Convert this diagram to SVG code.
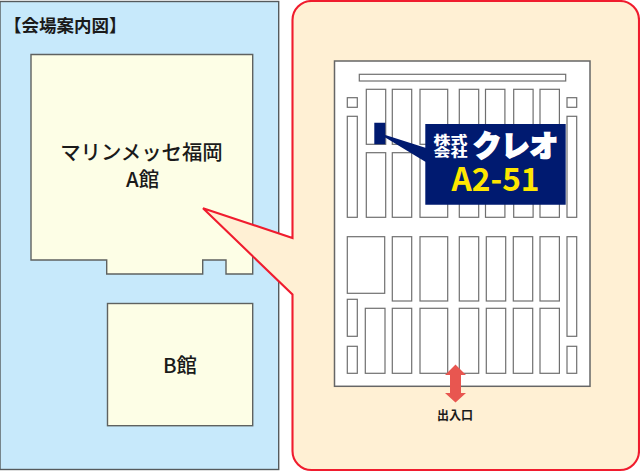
<svg xmlns="http://www.w3.org/2000/svg" width="640" height="472" viewBox="0 0 640 472">
<style>
text{font-family:"Noto Sans CJK JP","Noto Sans",sans-serif}
.hall{fill:#fdfee6;stroke:#5f6260;stroke-width:1.4}
.s{fill:#fff;stroke:#6f6f6f;stroke-width:1.2}
.lb{fill:#1a1a1a;font-weight:500;text-anchor:middle;font-size:20.400px}
.red{stroke:#f01c2e;stroke-width:2.100;stroke-linejoin:miter}
.w{fill:#fff;font-weight:900}
</style>
<rect width="640" height="472" fill="#fff"/>
<g id="site-panel">
<rect x="0" y="1.500" width="278.700" height="468" fill="#c7e9fb" stroke="#555a5c" stroke-width="1.400"/>
<text x="4" y="31.500" font-weight="700" fill="#1a1a1a" style="font-size:17.500px">【会場案内図】</text>
</g>
<g id="hall-a">
<path class="hall" d="M31 54.500H252.700V274H226V260H202.700V274H106.700V260H31Z"/>
<text class="lb" x="141.500" y="160">マリンメッセ福岡</text>
<text class="lb" x="142.500" y="187">A館</text>
</g>
<g id="hall-b">
<rect class="hall" x="107.500" y="303.500" width="145.200" height="122.200"/>
<text class="lb" x="180" y="372.500">B館</text>
</g>
<g id="detail-panel">
<path d="M639 451V20A19 19 0 0 0 620 1H311.500A19 19 0 0 0 292.500 20V238L203 208.300L292.500 294.500V451A19 19 0 0 0 311.500 470H620A19 19 0 0 0 639 451Z" fill="#fff0d4" class="red"/>
</g>
<g id="floor-plan">
<rect x="334.500" y="61" width="255.500" height="325.300" fill="#fff" stroke="#666" stroke-width="1.500"/>
<rect class="s" x="359.300" y="74.300" width="206.400" height="6.700"/>
<rect class="s" x="347.300" y="97.700" width="10" height="9.600"/>
<rect class="s" x="347.300" y="116.300" width="10" height="101"/>
<rect class="s" x="366.300" y="89.300" width="19.400" height="55"/>
<rect class="s" x="366.300" y="152.700" width="19.400" height="64.600"/>
<rect class="s" x="392.300" y="89.300" width="19.400" height="55"/>
<rect class="s" x="392.300" y="152.700" width="19.400" height="64.600"/>
<rect class="s" x="420" y="89.300" width="27.700" height="55"/>
<rect class="s" x="420" y="152.700" width="27.700" height="64.600"/>
<rect class="s" x="459.300" y="89.300" width="19.400" height="55"/>
<rect class="s" x="459.300" y="152.700" width="19.400" height="64.600"/>
<rect class="s" x="485.500" y="89.300" width="19.400" height="55"/>
<rect class="s" x="485.500" y="152.700" width="19.400" height="64.600"/>
<rect class="s" x="513.700" y="89.300" width="19.400" height="55"/>
<rect class="s" x="513.700" y="152.700" width="19.400" height="64.600"/>
<rect class="s" x="540" y="89.300" width="19.400" height="55"/>
<rect class="s" x="540" y="152.700" width="19.400" height="64.600"/>
<rect class="s" x="567" y="97.700" width="9.700" height="9.600"/>
<rect class="s" x="567" y="116.300" width="9.700" height="101"/>
<rect class="s" x="347.300" y="236.700" width="37.400" height="56.600"/>
<rect class="s" x="347.300" y="299.300" width="10" height="37"/>
<rect class="s" x="347.300" y="346.300" width="10" height="27"/>
<rect class="s" x="365.300" y="308.300" width="19.700" height="65"/>
<rect class="s" x="392.300" y="236.700" width="19.400" height="64.300"/>
<rect class="s" x="392.300" y="308.300" width="19.400" height="65"/>
<rect class="s" x="420" y="236.700" width="27.700" height="64.300"/>
<rect class="s" x="420" y="308.300" width="27.700" height="65"/>
<rect class="s" x="459.300" y="236.700" width="19.400" height="64.300"/>
<rect class="s" x="459.300" y="308.300" width="19.400" height="65"/>
<rect class="s" x="486.300" y="236.700" width="19.400" height="64.300"/>
<rect class="s" x="486.300" y="308.300" width="19.400" height="65"/>
<rect class="s" x="513.300" y="236.700" width="19.400" height="64.300"/>
<rect class="s" x="513.300" y="308.300" width="19.400" height="65"/>
<rect class="s" x="540" y="236.700" width="19.400" height="64.300"/>
<rect class="s" x="540" y="308.300" width="19.400" height="65"/>
<rect class="s" x="567" y="236.700" width="9.700" height="99.600"/>
<rect class="s" x="567" y="346.300" width="9.700" height="27"/>
</g>
<g id="booth-label">
<path d="M374.300 122.700H385.300V135L425.300 147.700V124H565.700V204.700H425.300V161.700L385.300 137.500V144.300H374.300Z" fill="#001a70"/>
<text class="w" x="433.500" y="145" style="font-size:12px" textLength="34" lengthAdjust="spacingAndGlyphs">株式</text>
<text class="w" x="433.500" y="157" style="font-size:12px" textLength="34" lengthAdjust="spacingAndGlyphs">会社</text>
<text class="w" x="473" y="157" style="font-size:29px;stroke:#fff;stroke-width:1.600" textLength="85" lengthAdjust="spacingAndGlyphs">クレオ</text>
<text x="495.500" y="191" font-weight="700" fill="#ffe600" text-anchor="middle" style="font-size:32px" textLength="88" lengthAdjust="spacingAndGlyphs">A2-51</text>
</g>
<g id="entrance">
<path d="M455.500 364.500L466 375H461V393H466L455.500 402.500L445 393H450V375H445Z" fill="#e85650"/>
<text x="455" y="419.500" font-weight="700" fill="#1a1a1a" text-anchor="middle" style="font-size:12px">出入口</text>
</g>
</svg>
